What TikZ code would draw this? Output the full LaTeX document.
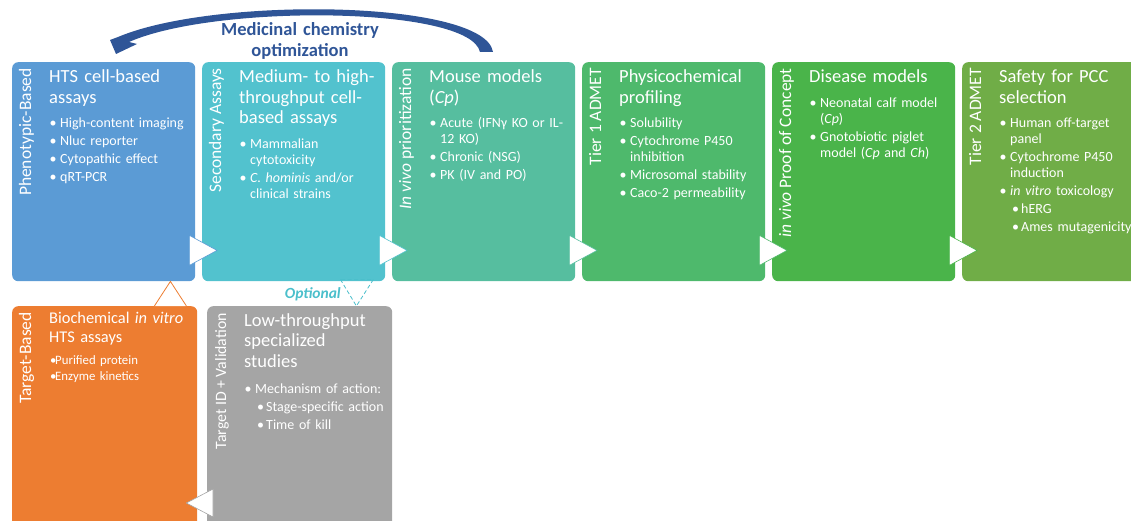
\documentclass[tikz,border=0pt]{standalone}
\usepackage{fontspec}
\setmainfont{Carlito}
\usepackage{tikz}
\usetikzlibrary{calc}

\definecolor{cblue}{HTML}{5B9BD5}
\definecolor{cteal}{HTML}{52C2CE}
\definecolor{cmint}{HTML}{56BE9F}
\definecolor{cgreen}{HTML}{4EB96C}
\definecolor{cgreenb}{HTML}{4AB44A}
\definecolor{colive}{HTML}{70AD47}
\definecolor{corange}{HTML}{ED7D31}
\definecolor{cgray}{HTML}{A5A5A5}
\definecolor{cnavy}{HTML}{2F5597}
\definecolor{copt}{HTML}{4BBFCB}

% bullet lines
\newcommand{\nl}{\hfil\break}
\newcommand{\bitem}[1]{\parskip=2pt\hangindent=11pt\hangafter=1\noindent\hbox to 11pt{\hspace{0.5pt}\textbullet\hfil}#1\par}
\newcommand{\bsub}[1]{\parskip=2pt\hangindent=22pt\hangafter=1\noindent\hbox to 22pt{\hspace{13pt}\textbullet\hfil}#1\par}
\newcommand{\bdot}[1]{\parskip=0pt\hangindent=6pt\hangafter=1\noindent\hbox to 6pt{\hspace{1pt}\textbullet\hfil}#1\par}

\tikzset{
  stage/.style={fill=#1, rounded corners=6pt, minimum width=183pt, minimum height=219pt, anchor=north west, inner sep=0pt},
  sidelbl/.style={rotate=90, anchor=base east, text=white, inner sep=0pt, font=\fontsize{17.5}{20}\selectfont},
  ttl/.style={anchor=base west, text=white, text width=150pt, align=left, inner sep=0pt, font=\fontsize{18.5}{20.5}\selectfont},
  pointlist/.style={anchor=base west, text=white, text width=150pt, align=left, inner sep=0pt, font=\fontsize{14}{16}\selectfont},
  chev/.style={fill=white, draw=#1, line width=0.6pt},
}

\begin{document}
\begin{tikzpicture}[x=1pt, y=-1pt]
\useasboundingbox (0,0) rectangle (1131,521);
\clip (0,0) rectangle (1131,521);

% optimization arrow
\fill[cnavy] (493,52) .. controls (485,0) and (215,-4) .. (118,37) -- (110,40) -- (116,54) -- (137,44) -- (129,42)
  .. controls (215,4) and (470,6) .. (480,52) -- cycle;
\node[anchor=base, text=cnavy, text width=200pt, align=center, inner sep=0pt,
  font=\fontsize{18.5}{21}\selectfont\bfseries] (mc) at (300,35.5) {Medicinal chemistry\\optimization};

% top row
\node[stage=cblue] (P1) at (12,62) {};
\node[stage=cteal] (P2) at (202,62) {};
\node[stage=cmint] (P3) at (392,62) {};
\node[stage=cgreen] (P4) at (582,62) {};
\node[stage=cgreenb] (P5) at (772,62) {};
\node[stage=colive] (P6) at (962,62) {};

% bottom row
\node[stage=corange, minimum width=185pt, minimum height=240pt] (Q1) at (12,306) {};
\node[stage=cgray, minimum width=185pt, minimum height=240pt] (Q2) at (207,306) {};

% chevrons
\draw[chev=cblue] ($(P1.south east)+(-6,-46)$) -- ($(P2.south west)+(15,-31)$) -- ($(P1.south east)+(-6,-16)$) -- cycle;
\draw[chev=cteal] ($(P2.south east)+(-6,-46)$) -- ($(P3.south west)+(15,-31)$) -- ($(P2.south east)+(-6,-16)$) -- cycle;
\draw[chev=cmint] ($(P3.south east)+(-6,-46)$) -- ($(P4.south west)+(15,-31)$) -- ($(P3.south east)+(-6,-16)$) -- cycle;
\draw[chev=cgreen] ($(P4.south east)+(-6,-46)$) -- ($(P5.south west)+(15,-31)$) -- ($(P4.south east)+(-6,-16)$) -- cycle;
\draw[chev=cgreenb] ($(P5.south east)+(-6,-46)$) -- ($(P6.south west)+(15,-31)$) -- ($(P5.south east)+(-6,-16)$) -- cycle;
\draw[chev=cgray] ($(Q2.north west)+(6,183)$) -- ($(Q1.north east)+(-11,197)$) -- ($(Q2.north west)+(6,211)$) -- cycle;

% target-based feeds HTS
\draw[corange, fill=white, line width=0.8pt] ($(Q1.north east)+(-43,0)$) -- ($(P1.south east)+(-25,0)$) -- ($(Q1.north east)+(-11,0)$);
% optional path
\draw[copt, dashed, dash pattern=on 4pt off 2.5pt, line width=0.8pt] ($(P2.south east)+(-45,-2)$) -- ($(Q2.north east)+(-36,0)$) -- ($(P2.south east)+(-12,-2)$) -- cycle;
\node[anchor=base east, text=copt, inner sep=0pt, font=\fontsize{15.5}{18}\selectfont\bfseries\itshape] (opt) at (341,298) {Optional};

% side labels
\node[sidelbl] (P1l) at ($(P1.north west)+(19,6)$) {Phenotypic-Based};
\node[sidelbl] (P2l) at ($(P2.north west)+(19,6)$) {Secondary Assays};
\node[sidelbl] (P3l) at ($(P3.north west)+(19,6)$) {\textit{In vivo} prioritization};
\node[sidelbl] (P4l) at ($(P4.north west)+(19,6)$) {Tier 1 ADMET};
\node[sidelbl] (P5l) at ($(P5.north west)+(19,6)$) {\textit{in vivo} Proof of Concept};
\node[sidelbl] (P6l) at ($(P6.north west)+(19,6)$) {Tier 2 ADMET};
\node[sidelbl] (Q1l) at ($(Q1.north west)+(19,6)$) {Target-Based};
\node[sidelbl, font=\fontsize{15.8}{18}\selectfont] (Q2l) at ($(Q2.north west)+(19,7)$) {Target ID + Validation};

% titles
\node[ttl] (P1t) at ($(P1.north west)+(37,21)$) {HTS cell-based\\assays};
\node[ttl] (P2t) at ($(P2.north west)+(37,21)$) {Medium- to high-\\throughput cell-\\based assays};
\node[ttl] (P3t) at ($(P3.north west)+(37,21)$) {Mouse models\\(\textit{Cp})};
\node[ttl] (P4t) at ($(P4.north west)+(37,21)$) {Physicochemical\\profiling};
\node[ttl] (P5t) at ($(P5.north west)+(37,21)$) {Disease models};
\node[ttl] (P6t) at ($(P6.north west)+(37,21)$) {Safety for PCC\\selection};
\node[ttl, font=\fontsize{16.4}{19}\selectfont] (Q1t) at ($(Q1.north west)+(37,17)$) {Biochemical \textit{in vitro}\\HTS assays};
\node[ttl] (Q2t) at ($(Q2.north west)+(37,20)$) {Low-throughput\\specialized\\studies};

% bullet points
\node[pointlist] (P1b) at ($(P1.north west)+(37,66)$) {\bitem{High-content imaging}\bitem{Nluc reporter}\bitem{Cytopathic effect}\bitem{qRT-PCR}};
\node[pointlist] (P2b) at ($(P2.north west)+(37,87)$) {\bitem{Mammalian\nl cytotoxicity}\bitem{\textit{C. hominis} and/or\nl clinical strains}};
\node[pointlist] (P3b) at ($(P3.north west)+(37,66)$) {\bitem{Acute (IFNγ KO or IL-\nl 12 KO)}\bitem{Chronic (NSG)}\bitem{PK (IV and PO)}};
\node[pointlist] (P4b) at ($(P4.north west)+(37,66)$) {\bitem{Solubility}\bitem{Cytochrome P450\nl inhibition}\bitem{Microsomal stability}\bitem{Caco-2 permeability}};
\node[pointlist] (P5b) at ($(P5.north west)+(37,46)$) {\bitem{Neonatal calf model\nl (\textit{Cp})}\bitem{Gnotobiotic piglet\nl model (\textit{Cp} and \textit{Ch})}};
\node[pointlist] (P6b) at ($(P6.north west)+(37,66)$) {\bitem{Human off-target\nl panel}\bitem{Cytochrome P450\nl induction}\bitem{\textit{in vitro} toxicology}\bsub{hERG}\bsub{Ames mutagenicity}};
\node[pointlist, font=\fontsize{12.8}{16.7}\selectfont] (Q1b) at ($(Q1.north west)+(37,58)$) {\bdot{Purified protein}\bdot{Enzyme kinetics}};
\node[pointlist] (Q2b) at ($(Q2.north west)+(37,87)$) {\bitem{Mechanism of action:}\bsub{Stage-specific action}\bsub{Time of kill}};
\end{tikzpicture}
\end{document}
